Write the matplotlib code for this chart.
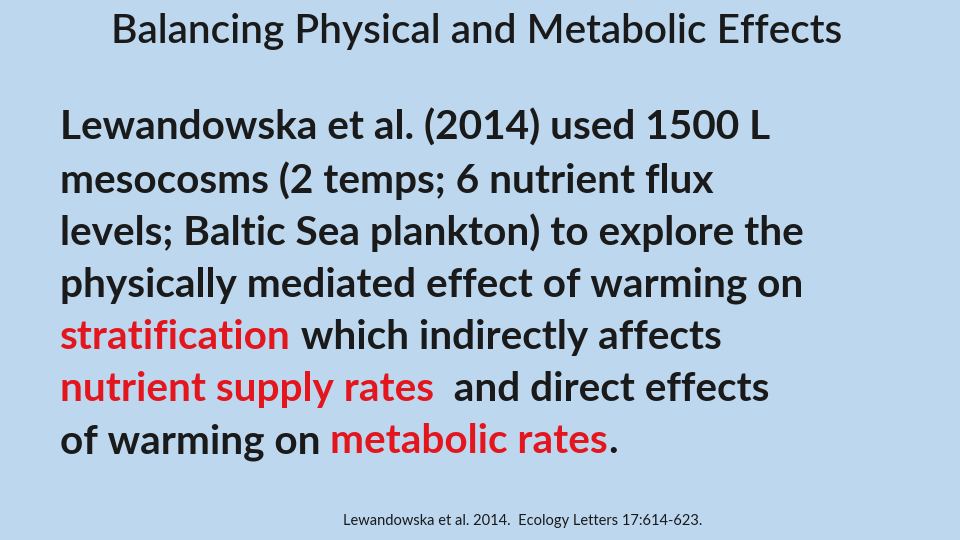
import matplotlib
matplotlib.use("Agg")
import matplotlib.pyplot as plt

BG = "#BDD7EE"
DARK = "#1a1a1a"
RED = "#E3161E"

title = "Balancing Physical and Metabolic Effects"
lines = [
    [("Lewandowska et al. (2014) used 1500 L", DARK)],
    [("mesocosms (2 temps; 6 nutrient flux", DARK)],
    [("levels; Baltic Sea plankton) to explore the", DARK)],
    [("physically mediated effect of warming on", DARK)],
    [("stratification", RED), (" which indirectly affects", DARK)],
    [("nutrient supply rates", RED), ("  and direct effects", DARK)],
    [("of warming on ", DARK), ("metabolic rates", RED), (".", DARK)],
]
footer = "Lewandowska et al. 2014.  Ecology Letters 17:614-623."

fig = plt.figure(figsize=(9.6, 5.4), dpi=100)
fig.patch.set_facecolor(BG)
FONT = "Lato"
fig.text(477/960, 1-32/540, title, ha="center", va="center", fontsize=29.2,
         fontweight="semibold", family=FONT, color=DARK)
fig.canvas.draw()
r = fig.canvas.get_renderer()
y0, dy = 128, 52.3
for i, segs in enumerate(lines):
    x = 60
    y = 1 - (y0 + i*dy)/540
    for s, c in segs:
        t = fig.text(x/960, y, s, ha="left", va="center", fontsize=29.2,
                     fontweight="bold", family=FONT, color=c)
        bb = t.get_window_extent(renderer=r)
        x += bb.width
fig.text(523/960, 1-521/540, footer, ha="center", va="center", fontsize=10.5,
         family=FONT, color=DARK)
fig.savefig("out.png", facecolor=BG)
